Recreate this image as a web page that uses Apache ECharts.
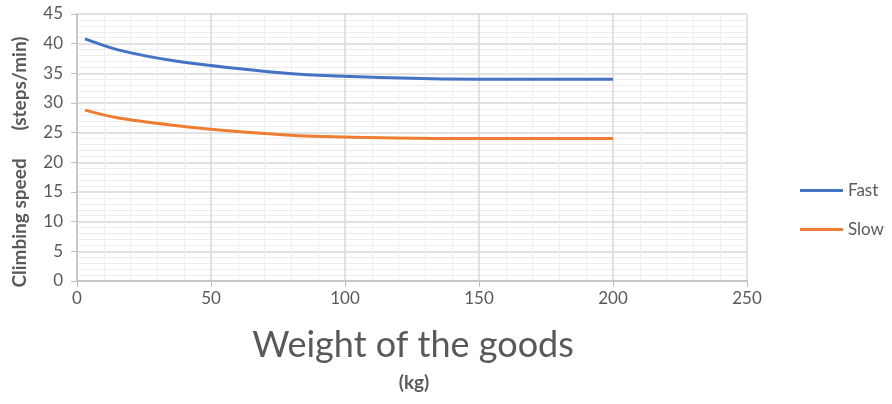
<!DOCTYPE html>
<html>
<head>
<meta charset="utf-8">
<script src="https://cdn.jsdelivr.net/npm/echarts@6/dist/echarts.min.js"></script>
<style>
  html,body{margin:0;padding:0;background:#fff;}
  #chart{width:892px;height:404px;}
</style>
</head>
<body>
<div id="chart"></div>
<script>
  // weight of goods (kg)
  var weights=[3,15,35,60,88,150,200];
  var fast=[40.8,39.0,37.2,35.8,34.7,34.0,34.0];
  var slow=[28.8,27.5,26.3,25.2,24.4,24.0,24.0];
  var seriesNames=['Fast','Slow'];

  function pairs(xs,ys){
    return xs.map(function(x,i){return [x,ys[i]];});
  }

  var font='Lato';
  var grey='#595959';
  var myChart=echarts.init(document.getElementById('chart'));
  var option={
    animation:false,
    textStyle:{fontFamily:font},
    grid:{left:77,right:145,top:14,bottom:123},
    legend:{
      orient:'vertical',
      left:795,
      top:177,
      itemWidth:43,
      itemHeight:3,
      itemGap:22,
      icon:'rect',
      textStyle:{color:grey,fontSize:17,fontFamily:font},
      data:seriesNames
    },
    xAxis:{
      type:'value',
      min:0,
      max:250,
      interval:50,
      axisLine:{lineStyle:{color:'#bfbfbf',width:1.5}},
      axisTick:{show:true,length:6,lineStyle:{color:'#bfbfbf'}},
      axisLabel:{color:grey,fontSize:17,margin:9},
      splitLine:{lineStyle:{color:'#d9d9d9',width:1.5}},
      minorTick:{show:false,splitNumber:5},
      minorSplitLine:{show:true,lineStyle:{color:'#eeeeee',width:1}}
    },
    yAxis:{
      type:'value',
      min:0,
      max:45,
      interval:5,
      axisLine:{show:true,lineStyle:{color:'#bfbfbf',width:1.5}},
      axisTick:{show:true,length:6,lineStyle:{color:'#bfbfbf'}},
      axisLabel:{color:grey,fontSize:17,margin:14},
      splitLine:{lineStyle:{color:'#d9d9d9',width:1.5}},
      minorTick:{show:false,splitNumber:5},
      minorSplitLine:{show:true,lineStyle:{color:'#eeeeee',width:1}}
    },
    graphic:[
      {
        type:'text',
        x:413,
        y:327,
        style:{text:'Weight of the goods',font:'36px '+font,fill:grey,textAlign:'center'}
      },
      {
        type:'text',
        x:414,
        y:373,
        style:{text:'(kg)',font:'bold 19px '+font,fill:grey,textAlign:'center'}
      },
      {
        type:'text',
        x:10,
        y:162,
        rotation:Math.PI/2,
        style:{text:'Climbing speed      (steps/min)',font:'bold 19px '+font,fill:grey,textAlign:'center'}
      }
    ],
    series:[
      {
        name:'Fast',
        type:'line',
        smooth:0.3,
        symbol:'none',
        lineStyle:{color:'#4472C4',width:3},
        itemStyle:{color:'#4472C4'},
        data:pairs(weights,fast)
      },
      {
        name:'Slow',
        type:'line',
        smooth:0.3,
        symbol:'none',
        lineStyle:{color:'#ED7D31',width:3},
        itemStyle:{color:'#ED7D31'},
        data:pairs(weights,slow)
      }
    ]
  };
  myChart.setOption(option);
</script>
</body>
</html>
